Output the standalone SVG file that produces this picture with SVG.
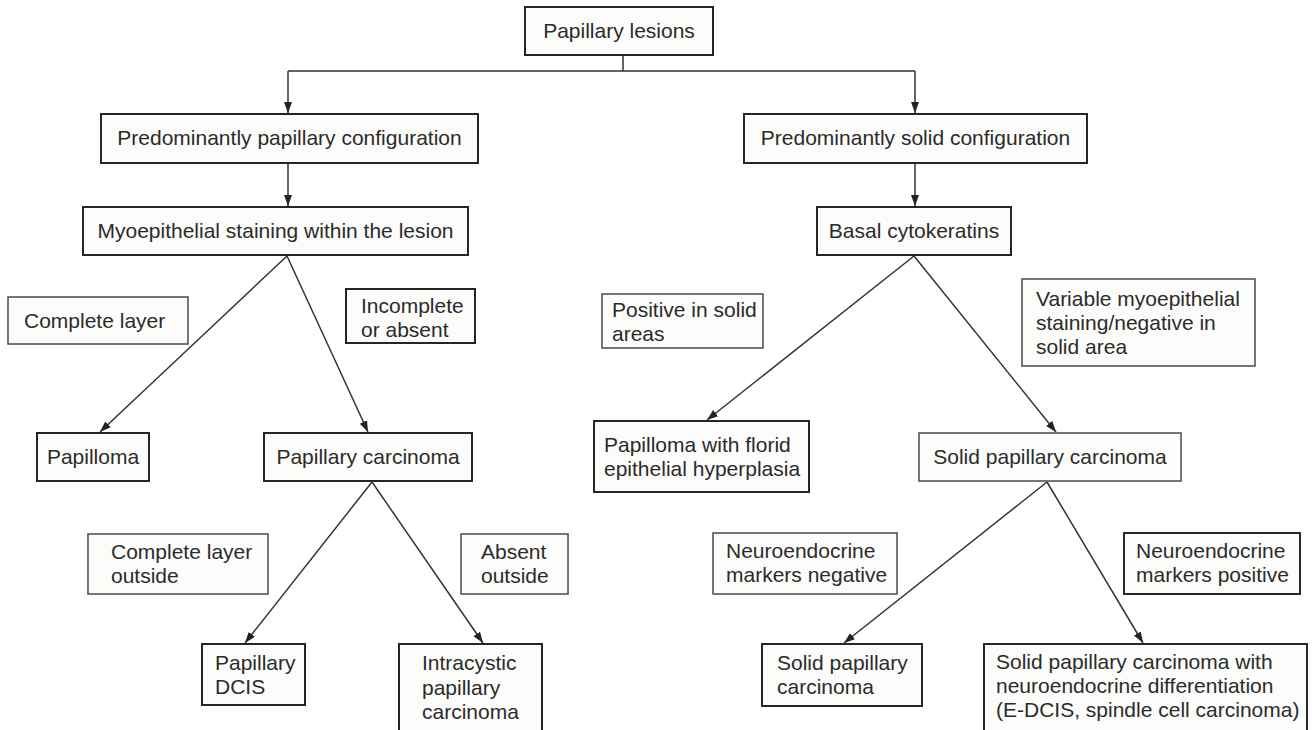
<svg xmlns="http://www.w3.org/2000/svg" width="1313" height="730" viewBox="0 0 1313 730">
<style>
text{font-family:"Liberation Sans",Arial,sans-serif;font-size:21px;fill:#2b2b2b}
.c{text-anchor:middle}
rect{fill:#fcfcfa}
.b{stroke:#262626;stroke-width:2}
.l{stroke:#4a4a4a;stroke-width:1.5}
#connectors path{fill:none;stroke:#333;stroke-width:1.5}
</style>
<defs>
<marker id="ah" markerUnits="userSpaceOnUse" markerWidth="12" markerHeight="10" refX="11" refY="4" orient="auto">
<path d="M0,0 L11,4 L0,8 z" fill="#222"/>
</marker>
</defs>
<rect width="1313" height="730" fill="#ffffff" style="fill:#fff"/>
<g id="connectors">
<path d="M623,55 V71 M288,71 H915"/>
<path d="M288,71 V113" marker-end="url(#ah)"/>
<path d="M915,71 V113" marker-end="url(#ah)"/>
<path d="M288,163 V206" marker-end="url(#ah)"/>
<path d="M915,163 V206" marker-end="url(#ah)"/>
<path d="M287,256 L100,432" marker-end="url(#ah)"/>
<path d="M287,256 L368,432" marker-end="url(#ah)"/>
<path d="M914,256 L707,420" marker-end="url(#ah)"/>
<path d="M914,256 L1056,432" marker-end="url(#ah)"/>
<path d="M372,482 L245,643" marker-end="url(#ah)"/>
<path d="M372,482 L483,643" marker-end="url(#ah)"/>
<path d="M1047,482 L844,643" marker-end="url(#ah)"/>
<path d="M1047,482 L1143,643" marker-end="url(#ah)"/>
</g>
<g id="n-root"><rect class="b" x="525" y="7" width="188" height="48"/><text class="c" x="619" y="38">Papillary lesions</text></g>
<g id="n-ppc"><rect class="b" x="101" y="114" width="377" height="49"/><text class="c" x="289.5" y="145">Predominantly papillary configuration</text></g>
<g id="n-psc"><rect class="b" x="744" y="114" width="343" height="49"/><text class="c" x="915.5" y="145">Predominantly solid configuration</text></g>
<g id="n-myo"><rect class="b" x="83" y="207" width="385" height="48"/><text class="c" x="275.5" y="238">Myoepithelial staining within the lesion</text></g>
<g id="n-basal"><rect class="b" x="817" y="207" width="194" height="48"/><text class="c" x="914" y="238">Basal cytokeratins</text></g>
<g id="l-complete"><rect class="l" x="8" y="297" width="180" height="47"/><text x="24" y="328">Complete layer</text></g>
<g id="l-incomplete"><rect class="b" x="346" y="289" width="129" height="54"/><text x="361" y="313">Incomplete</text><text x="361" y="337">or absent</text></g>
<g id="l-positive"><rect class="l" x="602" y="294" width="161" height="54"/><text x="612" y="317">Positive in solid</text><text x="612" y="341">areas</text></g>
<g id="l-variable"><rect class="l" x="1022" y="279" width="233" height="87"/><text x="1036" y="306">Variable myoepithelial</text><text x="1036" y="330">staining/negative in</text><text x="1036" y="354">solid area</text></g>
<g id="n-papilloma"><rect class="b" x="37" y="433" width="112" height="48"/><text class="c" x="93" y="464">Papilloma</text></g>
<g id="n-pc"><rect class="b" x="264" y="433" width="208" height="48"/><text class="c" x="368" y="464">Papillary carcinoma</text></g>
<g id="n-florid"><rect class="b" x="594" y="421" width="215" height="71"/><text x="604" y="452">Papilloma with florid</text><text x="604" y="476">epithelial hyperplasia</text></g>
<g id="n-spc"><rect class="l" x="919" y="433" width="262" height="48"/><text class="c" x="1050" y="464">Solid papillary carcinoma</text></g>
<g id="l-outside"><rect class="l" x="88" y="534" width="180" height="60"/><text x="111" y="559">Complete layer</text><text x="111" y="583">outside</text></g>
<g id="l-absent"><rect class="l" x="461" y="534" width="107" height="60"/><text x="481" y="559">Absent</text><text x="481" y="583">outside</text></g>
<g id="l-neg"><rect class="l" x="713" y="533" width="184" height="61"/><text x="726" y="558">Neuroendocrine</text><text x="726" y="582">markers negative</text></g>
<g id="l-pos"><rect class="b" x="1124" y="533" width="176" height="61"/><text x="1136" y="558">Neuroendocrine</text><text x="1136" y="582">markers positive</text></g>
<g id="n-dcis"><rect class="b" x="202" y="644" width="103" height="61"/><text x="215" y="670">Papillary</text><text x="215" y="694">DCIS</text></g>
<g id="n-intracystic"><rect class="b" x="399" y="644" width="143" height="100"/><text x="422" y="670">Intracystic</text><text x="422" y="695">papillary</text><text x="422" y="719">carcinoma</text></g>
<g id="n-spc2"><rect class="b" x="762" y="644" width="160" height="62"/><text x="777" y="670">Solid papillary</text><text x="777" y="694">carcinoma</text></g>
<g id="n-ne"><rect class="b" x="984" y="644" width="323" height="100"/><text x="996" y="669">Solid papillary carcinoma with</text><text x="996" y="693">neuroendocrine differentiation</text><text x="996" y="717">(E-DCIS, spindle cell carcinoma)</text></g>
</svg>
